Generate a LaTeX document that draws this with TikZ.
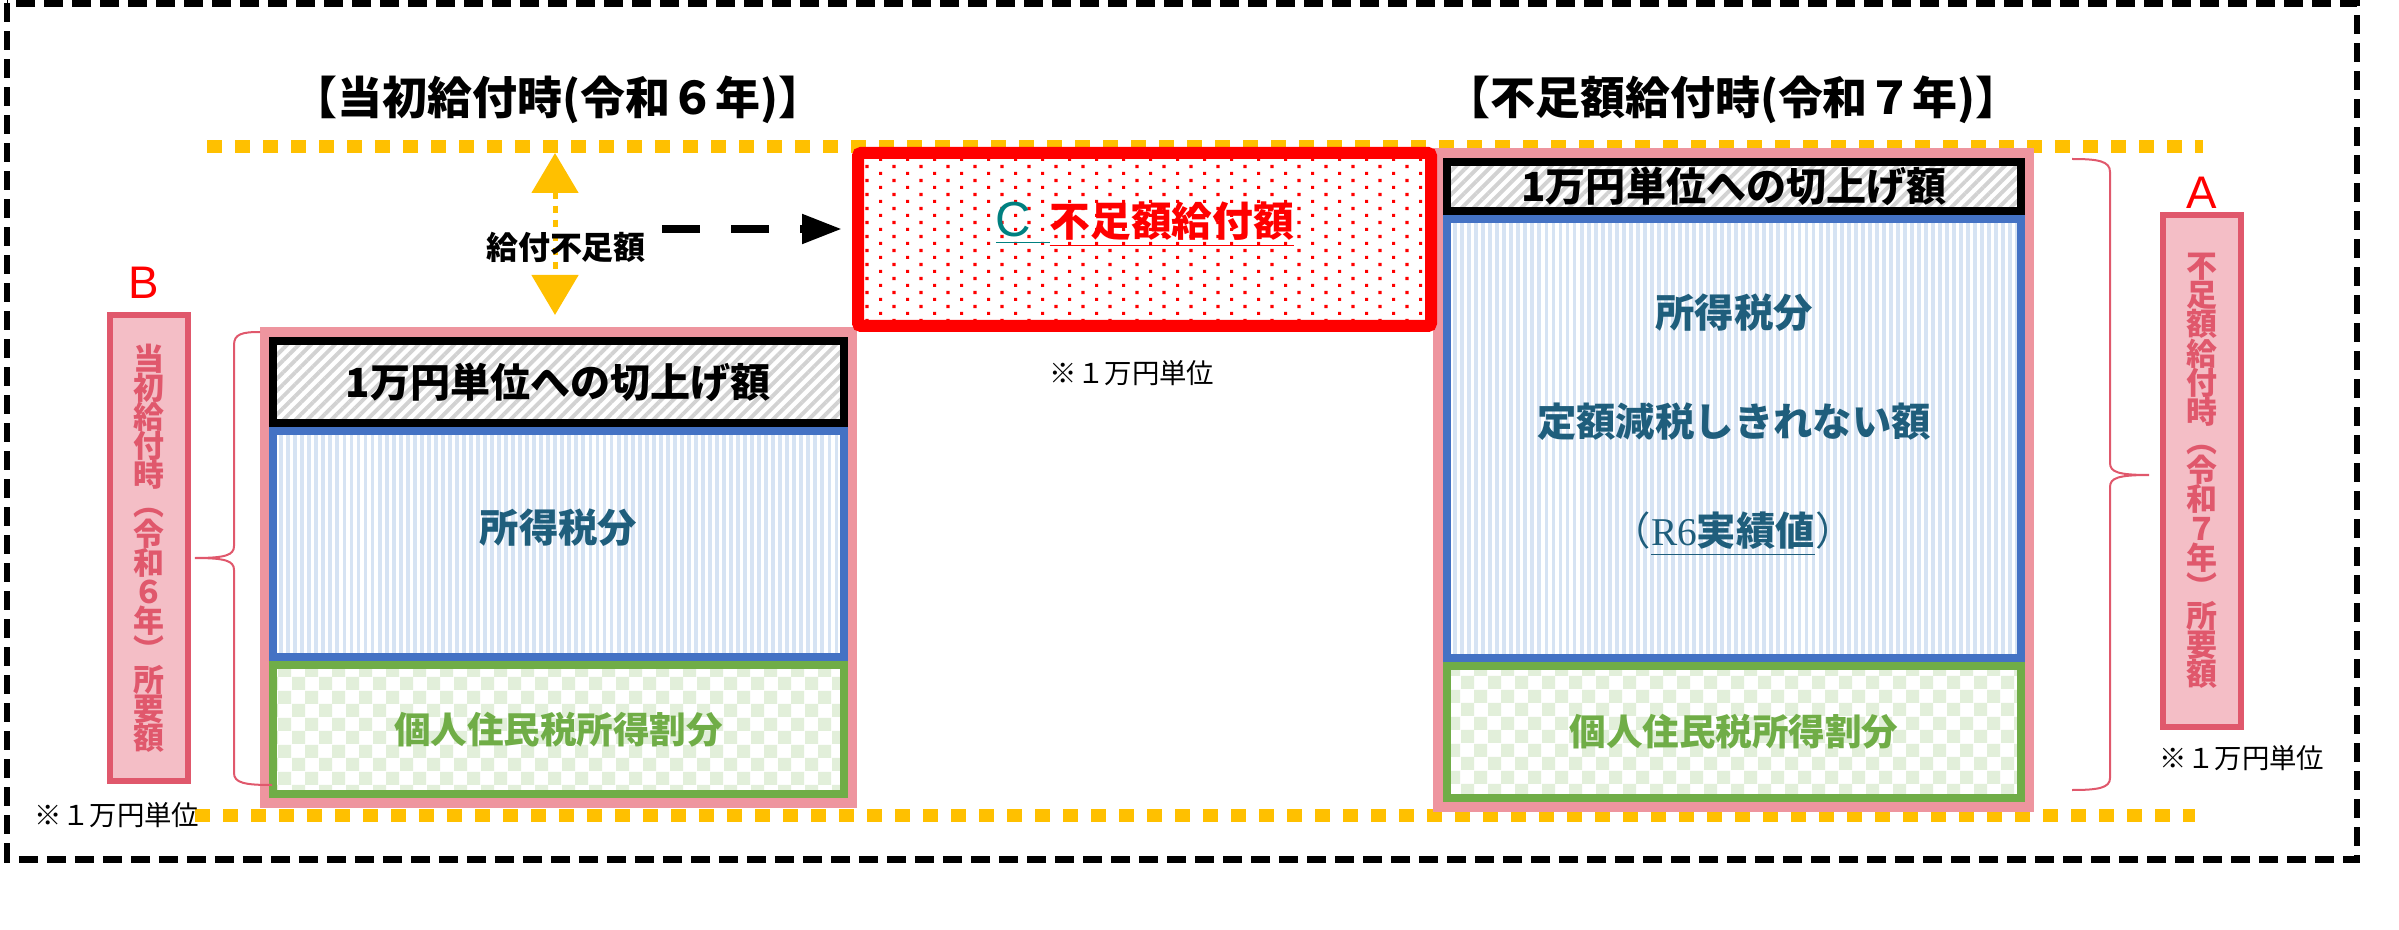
\documentclass[tikz,border=0pt]{standalone}
\usepackage{fontspec}
\setmainfont{Noto Sans CJK JP}[BoldFont={Noto Sans CJK JP Black}]
\newfontfamily\latinsans{Liberation Sans}
\newfontfamily\latinserif{Liberation Serif}
\usetikzlibrary{arrows.meta,patterns.meta}
\newcommand\tightlines{\lineskiplimit=-5pt\relax}

\definecolor{guidegold}{RGB}{255,192,0}
\definecolor{colpink}{RGB}{238,149,159}
\definecolor{tagred}{RGB}{224,88,108}
\definecolor{tagfill}{RGB}{244,190,198}
\definecolor{taxblue}{RGB}{68,114,196}
\definecolor{stripeblue}{RGB}{214,227,243}
\definecolor{taxtext}{RGB}{31,94,124}
\definecolor{resgreen}{RGB}{112,173,71}
\definecolor{checkgreen}{RGB}{226,239,218}
\definecolor{hatchgray}{RGB}{210,210,210}
\definecolor{cteal}{RGB}{0,128,128}

\pgfdeclarepattern{
  name=reddots, type=uncolored,
  bottom left={\pgfpointorigin}, top right={\pgfpoint{7.82pt}{3.98pt}},
  tile size={\pgfpoint{7.82pt}{3.98pt}},
  code={
    \pgfpathrectangle{\pgfpointorigin}{\pgfpoint{0.9pt}{0.9pt}}
    \pgfpathrectangle{\pgfpoint{3.91pt}{1.99pt}}{\pgfpoint{0.9pt}{0.9pt}}
    \pgfusepath{fill}
  }
}
\pgfdeclarepattern{
  name=greenchecks, type=uncolored,
  bottom left={\pgfpointorigin}, top right={\pgfpoint{7.56pt}{7.56pt}},
  tile size={\pgfpoint{7.56pt}{7.56pt}},
  code={
    \pgfpathrectangle{\pgfpointorigin}{\pgfpoint{3.78pt}{3.78pt}}
    \pgfpathrectangle{\pgfpoint{3.78pt}{3.78pt}}{\pgfpoint{3.78pt}{3.78pt}}
    \pgfusepath{fill}
  }
}

\tikzset{
  heading/.style={font=\bfseries\fontsize{12.8}{15}\selectfont},
  bodytxt/.style={font=\bfseries\fontsize{11.2}{13}\selectfont},
  note/.style={font=\fontsize{7.8}{9}\selectfont},
  guide/.style={guidegold, line width=0.13cm, dash pattern=on 0.15cm off 0.13cm},
  colframe/.style={fill=colpink, inner sep=0pt},
  roundup/.style={draw=black, line width=0.08cm, inner sep=0pt, preaction={fill=white},
    pattern={Lines[angle=45,distance=2.4pt,line width=1.1pt]}, pattern color=hatchgray,
    font=\bfseries\fontsize{11.4}{13}\selectfont},
  taxbox/.style={draw=taxblue, line width=0.08cm, inner sep=0pt, preaction={fill=white},
    pattern={Lines[angle=90,distance=2pt,line width=1.1pt]}, pattern color=stripeblue},
  resbox/.style={draw=resgreen, line width=0.08cm, inner sep=0pt, preaction={fill=white},
    pattern=greenchecks, pattern color=checkgreen, text=resgreen,
    font=\bfseries\fontsize{10.4}{12}\selectfont},
  shortbox/.style={draw=red, line width=0.12cm, rounded corners=0.03cm, inner sep=0pt,
    preaction={fill=white}, pattern=reddots, pattern color=red},
  tagbox/.style={draw=tagred, fill=tagfill, line width=0.06cm, inner sep=0pt, text=tagred,
    align=center, font=\bfseries\fontsize{8.8}{8.3}\selectfont\tightlines},
  tagletter/.style={text=red, font=\latinsans\fontsize{13}{15}\selectfont},
  brace/.style={tagred, line width=0.02cm}
}

\begin{document}
\begin{tikzpicture}[x=1cm, y=-1cm]
\useasboundingbox (0,0) rectangle (23.99,9.30);
% outer frame and guides
\draw[line width=0.065cm, dash pattern=on 0.19cm off 0.09cm] (0.07,0.035) rectangle (23.57,8.595);
\draw[guide] (2.07,1.465) -- (22.03,1.465);
\draw[guide] (1.95,8.15) -- (21.95,8.15);

\node[heading] (head6) at (5.58,1.00) {【当初給付時(令和６年)】};
\node[heading] (head7) at (17.33,1.00) {【不足額給付時(令和７年)】};

% R6 column
\node[colframe, minimum width=5.97cm, minimum height=4.81cm] (col6) at (5.585,5.675) {};
\node[roundup, minimum width=5.71cm, minimum height=0.82cm] (up6) at (5.585,3.82) {1万円単位への切上げ額};
\node[taxbox, minimum width=5.71cm, minimum height=2.26cm] (tax6) at (5.585,5.44) {};
\node[bodytxt, text=taxtext] (taxtxt6) at (5.585,5.28) {所得税分};
\node[resbox, minimum width=5.71cm, minimum height=1.29cm] (res6) at (5.585,7.295) {個人住民税所得割分};

% R7 column
\node[colframe, minimum width=6.01cm, minimum height=6.64cm] (col7) at (17.335,4.80) {};
\node[roundup, minimum width=5.74cm, minimum height=0.49cm] (up7) at (17.34,1.865) {1万円単位への切上げ額};
\node[taxbox, minimum width=5.74cm, minimum height=4.39cm] (tax7) at (17.34,4.385) {};
\node[bodytxt, text=taxtext] (taxtxt7) at (17.34,3.13) {所得税分};
\node[bodytxt, text=taxtext] (flat7) at (17.34,4.22) {定額減税しきれない額};
\node[bodytxt, text=taxtext] (act7) at (17.33,5.34) {{\mdseries （}\underline{{\latinserif\mdseries R6}実績値}{\mdseries ）}};
\node[resbox, minimum width=5.74cm, minimum height=1.32cm] (res7) at (17.34,7.32) {個人住民税所得割分};

% shortfall
\node[shortbox, minimum width=5.73cm, minimum height=1.73cm] (short) at (11.445,2.395) {};
\node[font=\fontsize{11.6}{14}\selectfont] (shorttxt) at (11.45,2.25) {{\color{cteal}\underline{{\latinsans\fontsize{14}{14}\selectfont C}\ \ }}{\color{red}\bfseries\underline{不足額給付額}}};
\node[note] (unitC) at (11.32,3.73) {※１万円単位};

\coordinate (gapTop) at (5.55,1.53);
\coordinate (gapBot) at (5.55,3.15);
\draw[guidegold, line width=0.05cm, dash pattern=on 0.07cm off 0.07cm, <->, >={Triangle[length=0.40cm,width=0.46cm]}] (gapTop) -- (gapBot);
\node[font=\bfseries\fontsize{9.1}{11}\selectfont] (gapLbl) at (5.66,2.47) {給付不足額};
\coordinate (gapOut) at (6.62,2.29);
\draw[line width=0.08cm, dash pattern=on 0.38cm off 0.31cm, ->, >={Triangle[length=0.40cm,width=0.28cm]}, shorten >=0.10cm] (gapOut) -- (gapOut -| short.west);

% tags and braces
\node[tagletter] (tagB) at (1.44,2.83) {B};
\node[tagbox, minimum width=0.78cm, minimum height=4.66cm] (need6) at (1.49,5.48) {当\\初\\給\\付\\時\\︵\\令\\和\\６\\年\\︶\\所\\要\\額};
\draw[brace] (2.60,3.32) .. controls (2.42,3.32) and (2.34,3.34) .. (2.34,3.45) -- (2.34,5.46) .. controls (2.34,5.55) and (2.26,5.58) .. (1.95,5.58) .. controls (2.26,5.58) and (2.34,5.61) .. (2.34,5.70) -- (2.34,7.73) .. controls (2.34,7.83) and (2.45,7.85) .. (2.72,7.85);
\node[note] (unit6) at (1.17,8.15) {※１万円単位};

\node[tagletter] (tagA) at (22.02,1.93) {A};
\node[tagbox, minimum width=0.78cm, minimum height=5.12cm] (need7) at (22.02,4.71) {不\\足\\額\\給\\付\\時\\︵\\令\\和\\７\\年\\︶\\所\\要\\額};
\draw[brace] (20.72,1.59) .. controls (20.98,1.59) and (21.10,1.61) .. (21.10,1.72) -- (21.10,4.63) .. controls (21.10,4.72) and (21.18,4.75) .. (21.49,4.75) .. controls (21.18,4.75) and (21.10,4.78) .. (21.10,4.87) -- (21.10,7.78) .. controls (21.10,7.88) and (20.98,7.90) .. (20.72,7.90);
\node[note] (unit7) at (22.42,7.58) {※１万円単位};
\end{tikzpicture}
\end{document}
